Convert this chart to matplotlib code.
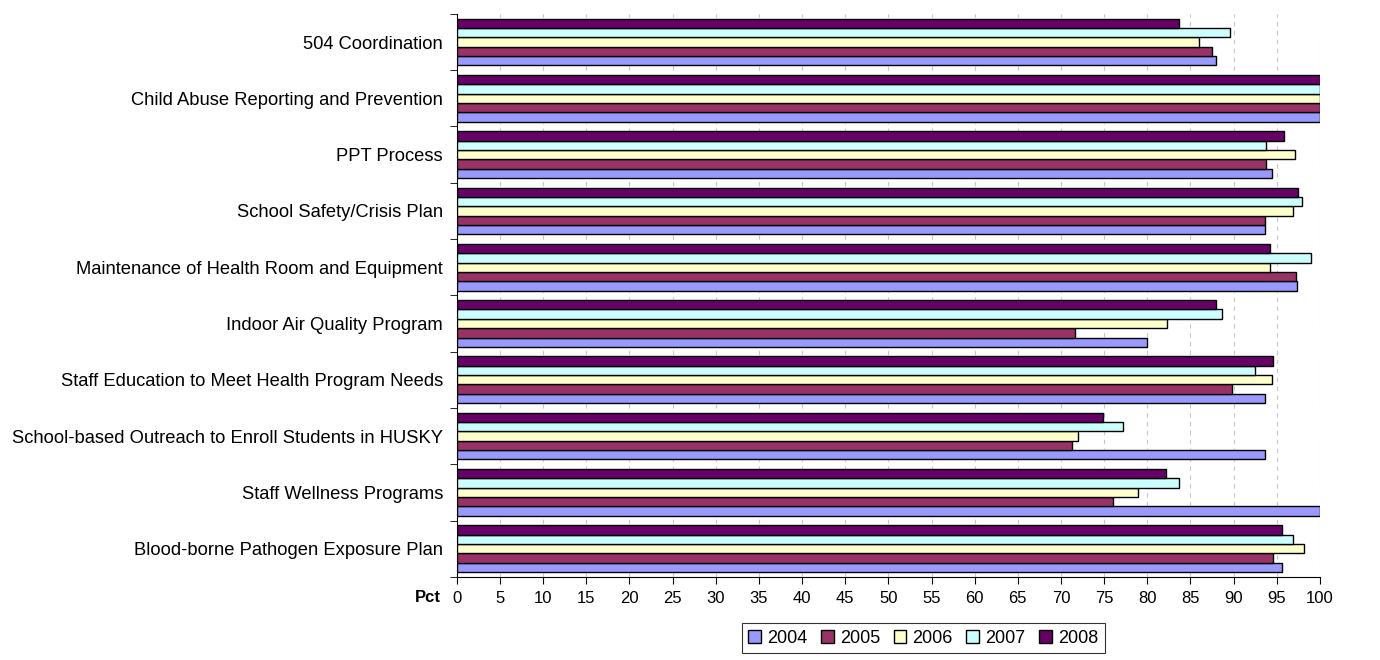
import numpy as np
import matplotlib
matplotlib.use("Agg")
from matplotlib import pyplot as plt
from matplotlib.patches import Patch

plt.rcParams['font.family'] = ['Liberation Sans', 'DejaVu Sans']

# categories listed bottom -> top
categories = [
    "Blood-borne Pathogen Exposure Plan",
    "Staff Wellness Programs",
    "School-based Outreach to Enroll Students in HUSKY",
    "Staff Education to Meet Health Program Needs",
    "Indoor Air Quality Program",
    "Maintenance of Health Room and Equipment",
    "School Safety/Crisis Plan",
    "PPT Process",
    "Child Abuse Reporting and Prevention",
    "504 Coordination",
]

years = ["2004", "2005", "2006", "2007", "2008"]

vals_2004 = [95.6, 100.0, 93.6, 93.6, 80.0, 97.3, 93.6, 94.4, 100.0, 87.9]
vals_2005 = [94.6, 76.0, 71.3, 89.8, 71.6, 97.2, 93.6, 93.8, 100.0, 87.5]
vals_2006 = [98.1, 78.9, 72.0, 94.4, 82.3, 94.2, 96.9, 97.1, 100.0, 86.0]
vals_2007 = [96.9, 83.7, 77.2, 92.5, 88.7, 99.0, 97.9, 93.8, 100.0, 89.6]
vals_2008 = [95.6, 82.2, 74.9, 94.6, 87.9, 94.2, 97.5, 95.8, 100.0, 83.7]

colors = ["#9999FF", "#993366", "#FFFFCC", "#CCFFFF", "#660066"]

series = [vals_2004, vals_2005, vals_2006, vals_2007, vals_2008]

fig = plt.figure(figsize=(13.8, 6.6), dpi=100)
ax = fig.add_axes([0.331, 0.126, 0.6255, 0.853])

y = np.arange(len(categories))
h = 0.166
for i in range(5):
    ax.barh(y - 2 * h + i * h, series[i], height=h, color=colors[i],
            edgecolor="black", linewidth=1.0, zorder=3)

ax.set_xlim(0, 100)
ax.set_ylim(-0.5, len(categories) - 0.5)
ax.set_xticks(np.arange(0, 101, 5))
ax.tick_params(axis="x", direction="out", length=5, labelsize=12, pad=5)

# category labels centred, ticks on the boundaries
ax.set_yticks(y)
ax.set_yticklabels(categories, fontsize=13.2)
ax.tick_params(axis="y", length=0, pad=10)
ax.set_yticks(np.arange(-0.5, len(categories), 1), minor=True)
ax.tick_params(axis="y", which="minor", direction="out", length=5)

ax.grid(axis="x", color="#C8C8C8", linestyle=(0, (4, 4)), linewidth=0.8, zorder=0)
ax.spines["top"].set_visible(False)
ax.spines["right"].set_visible(False)

ax.text(-0.018, -0.023, "Pct", transform=ax.transAxes, ha="right", va="top",
        fontsize=12, fontweight="bold")

handles = [Patch(facecolor=c, edgecolor="black", linewidth=1.0) for c in colors]
leg = fig.legend(handles, years, loc="lower center", bbox_to_anchor=(0.669, -0.003),
                 ncol=5, fontsize=13, frameon=True, fancybox=False,
                 handlelength=0.7, handleheight=0.7, handletextpad=0.35,
                 columnspacing=0.75, borderpad=0.35)
leg.get_frame().set_edgecolor("black")
leg.get_frame().set_linewidth(0.8)

fig.savefig("out.png", dpi=100)
